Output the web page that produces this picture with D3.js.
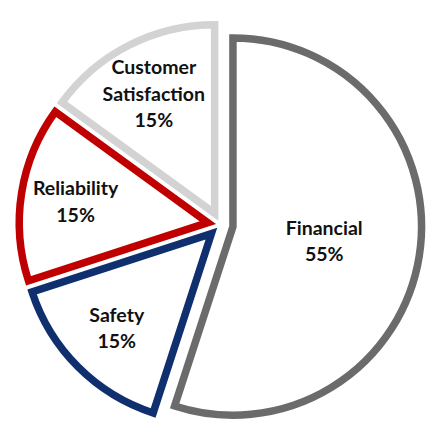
<!DOCTYPE html>
<meta charset="utf-8">
<head>
  <title>Pie</title>
</head>
<style>
body { margin: 0; background: #fff; }
.lbl { font-family: Lato, "Open Sans", sans-serif; font-weight: bold; font-size: 19.5px; fill: #111; }
</style>
<body>
<script src="https://d3js.org/d3.v7.min.js"></script>
<script>
// data
var categories = ["Financial", "Safety", "Reliability", "Customer Satisfaction"];
var values = [55, 15, 15, 15];
var colors = ["#6b6b6b", "#0f2f6e", "#c00000", "#d3d3d3"];

var w = 448, h = 447;
var cx = 220.4, cy = 224.6, r = 188.6, explode = 12.7;

var svg = d3.select("body").append("svg")
  .attr("width", w)
  .attr("height", h);

var pie = d3.pie().sort(null).value(function(d) { return d.v; });
var arc = d3.arc().innerRadius(0).outerRadius(r);

var rows = categories.map(function(c, i) { return {name: c, v: values[i], color: colors[i]}; });
var arcs = pie(rows);

var g = svg.append("g").attr("transform", "translate(" + cx + "," + cy + ")");

var slice = g.selectAll("g.slice")
  .data(arcs)
  .enter().append("g")
  .attr("class", "slice")
  .attr("transform", function(d) {
    var a = (d.startAngle + d.endAngle) / 2;
    return "translate(" + (explode * Math.sin(a)) + "," + (-explode * Math.cos(a)) + ")";
  });

slice.append("path")
  .attr("d", arc)
  .attr("fill", "#fff")
  .attr("stroke", function(d) { return d.data.color; })
  .attr("stroke-width", 7.5)
  .attr("stroke-linejoin", "miter");

// label distance, as fraction of radius (big slice sits closer)
slice.each(function(d) {
  var a = (d.startAngle + d.endAngle) / 2;
  var k = d.data.v > 50 ? 0.49 : 0.71;
  var lx = k * r * Math.sin(a), ly = -k * r * Math.cos(a);
  var words = d.data.name.split(" ");
  var lines = words.concat([d.data.v + "%"]);
  var lh = 26.5;
  var t = d3.select(this).append("text")
    .attr("class", "lbl")
    .attr("text-anchor", "middle");
  lines.forEach(function(s, i) {
    t.append("tspan")
      .attr("x", lx)
      .attr("y", ly + (i - (lines.length - 1) / 2) * lh)
      .attr("dy", "0.35em")
      .text(s);
  });
});
</script>
</body>
</html>
